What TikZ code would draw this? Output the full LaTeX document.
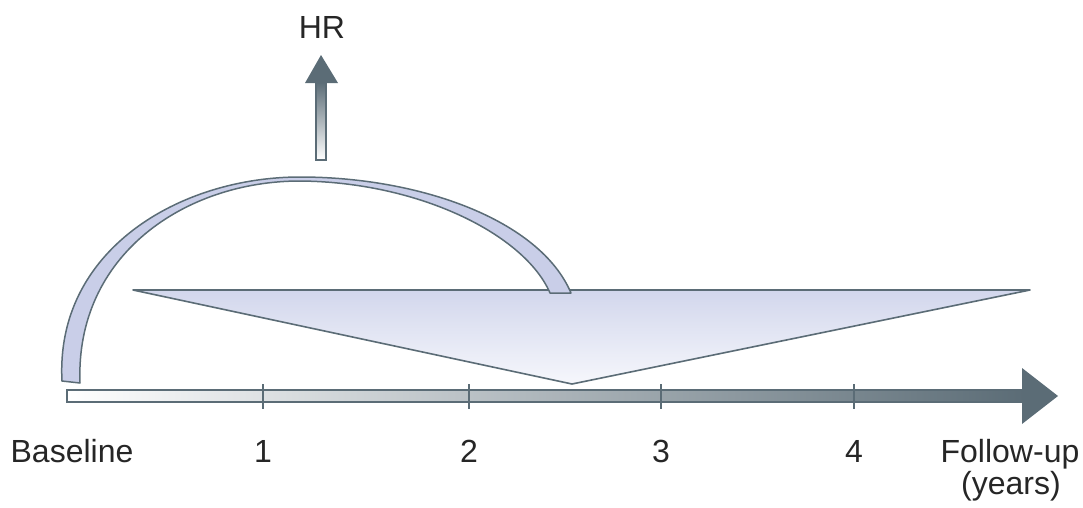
\documentclass[tikz,border=0pt]{standalone}
\usepackage{fontspec}
\setmainfont{Liberation Sans}
\usepackage{tikz}
\usetikzlibrary{arrows.meta,positioning}
\definecolor{slate}{HTML}{5B6C76}
\definecolor{lav}{HTML}{C3C9E6}
\definecolor{lavlight}{HTML}{F6F7FC}
\tikzset{lbl/.style={font=\fontsize{32}{35}\selectfont,text=black!85,inner sep=0pt,anchor=base},
  band/.style={draw=slate,fill=lav!90,line width=1.5pt,line join=round}}
\begin{document}
\begin{tikzpicture}[x=1pt,y=-1pt]
\useasboundingbox (0,0) rectangle (1083,507);
% cohort wedge
\coordinate (tl) at (133,290);
\coordinate (tr) at (1030,290);
\coordinate (tb) at (572,384);
\shade[top color=lav!75,bottom color=lavlight](tl)--(tr)--(tb)--cycle;
\draw[slate,line width=1.6pt,line join=round](tl)--(tr)--(tb)--cycle;
% ribbon
\coordinate (as) at (62,381);
\coordinate (ae) at (571,293);
\draw[band](as).. controls (55,250) and (180,177) .. (300,177)
  .. controls (420,177) and (540,220) .. (ae)
  -- (550,293) .. controls (525,235) and (420,182) .. (300,181)
  .. controls (185,181) and (75,255) .. (80,383) -- cycle;
% time axis
\coordinate (base) at (67,396);
\coordinate (tip) at (1058,396);
\shade[left color=white,right color=slate](67,390)rectangle(1024,402);
\draw[slate,line width=1.5pt](67,390)rectangle(1024,402);
\fill[slate](1022,368)--(tip)--(1022,424)--cycle;
\foreach \x/\n in {263/1,469/2,661/3,854/4}{
  \draw[slate,line width=1.4pt](\x,384)--(\x,409);
  \node[lbl](t\n) at (\x,462){\n};
}
\node[lbl](bl) at (72,462){Baseline};
\node[lbl](fu) at (1010,462){Follow-up};
\node[lbl](yr) at (1011,494){(years)};
% HR arrow
\coordinate (hb) at (321,160);
\coordinate (ht) at (321,55);
\shade[bottom color=white,top color=slate](316,82)rectangle(326,160);
\draw[slate,line width=1.3pt](316,82)rectangle(326,160);
\fill[slate](305,83)--(ht)--(338,83)--cycle;
\node[lbl](hr) at (322,38){HR};
\end{tikzpicture}
\end{document}
